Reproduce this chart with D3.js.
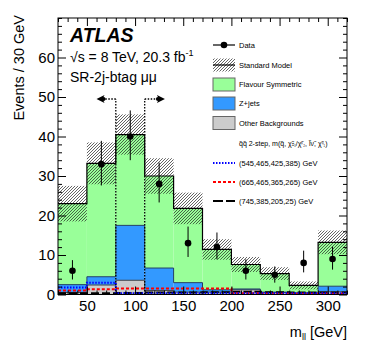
<!DOCTYPE html>
<html>
<head>
<meta charset="utf-8">
<script src="https://cdn.jsdelivr.net/npm/d3@7"></script>
<style>
body { margin: 0; background: #fff; }
svg { display: block; font-family: "Liberation Sans", Arial, Helvetica, sans-serif; }
</style>
</head>
<body>
<svg width="366" height="351"></svg>
<script>
// m_ll bins (GeV) and contents
const binEdges = [20, 50, 80, 110, 140, 170, 200, 230, 260, 290, 320];
const dataCounts = [6, 33, 40, 28, 13, 12, 6, 5, 8, 9];
const dataErrUp = [2.7, 5.9, 6.6, 5.4, 4.2, 3.7, 2.9, 2.1, 3.1, 3.1];
const dataErrDown = [2.2, 5.4, 6.0, 4.7, 3.5, 3.1, 2.2, 2.0, 2.4, 2.7];

const otherBkg = [0.5, 2.4, 3.6, 1.0, 0.6, 0.6, 1.2, 0.5, 0.3, 0.7];
const zJets = [2.0, 2.1, 13.9, 5.7, 2.4, 0.6, 0.2, 0.1, 0.1, 1.4];
const flavSym = [20.5, 28.7, 23.0, 23.3, 18.8, 10.2, 6.2, 4.7, 1.9, 11.1];
const smErr = [4.5, 5.3, 5.1, 4.5, 4.0, 2.6, 1.9, 1.6, 1.0, 3.0];

const sig545 = [1.8, 3.0, 0.3, 0.3, 0.3, 0.3, 0.3, 0.3, 0.3, 0.3];
const sig665 = [1.0, 1.3, 1.5, 1.5, 1.5, 1.5, 0.3, 0.2, 0.2, 0.2];
const sig745 = [0.3, 0.3, 0.4, 0.5, 0.5, 0.6, 0.7, 0.6, 0.5, 0.5];

const cutEdges = [80, 110];
const cutHeight = 49.5;
const arrowTips = [60, 131];

const xMajorTicks = [50, 100, 150, 200, 250, 300];
const yMajorTicks = [0, 10, 20, 30, 40, 50, 60];

const svg = d3.select("svg"),
	margin = {top: 18, right: 19, bottom: 56.5, left: 58},
	width = +svg.attr("width"),
	height = +svg.attr("height");

const x = d3.scaleLinear()
	.domain([20, 320])
	.range([margin.left, width - margin.right]);

const y = d3.scaleLinear()
	.domain([0, 70])
	.range([height - margin.bottom, margin.top]);

const bins = dataCounts.map(function(d, i) {
	return {
		lo: binEdges[i], hi: binEdges[i + 1],
		other: otherBkg[i], zjets: zJets[i], fs: flavSym[i]
	};
});
const stacked = d3.stack().keys(["other", "zjets", "fs"])(bins);
const smTotal = bins.map(function(b) { return b.other + b.zjets + b.fs; });

const defs = svg.append("defs");
defs.append("clipPath").attr("id", "plotclip")
	.append("rect")
	.attr("x", x(20)).attr("y", y(70))
	.attr("width", x(320) - x(20)).attr("height", y(0) - y(70));

const hatch = defs.append("pattern")
	.attr("id", "hatch")
	.attr("patternUnits", "userSpaceOnUse")
	.attr("width", 3).attr("height", 3);
hatch.append("path")
	.attr("d", "M-1,1 L1,-1 M0,3 L3,0 M2,4 L4,2")
	.attr("stroke", "#222")
	.attr("stroke-width", 0.7);

const plot = svg.append("g").attr("clip-path", "url(#plotclip)");

const fills = {other: "#cccccc", zjets: "#3399ff", fs: "#99ff99"};

// stacked backgrounds
stacked.forEach(function(layer) {
	plot.append("g").selectAll("rect")
		.data(layer)
		.enter().append("rect")
		.attr("x", function(d) { return x(d.data.lo); })
		.attr("width", function(d) { return x(d.data.hi) - x(d.data.lo); })
		.attr("y", function(d) { return y(d[1]); })
		.attr("height", function(d) { return y(d[0]) - y(d[1]); })
		.attr("fill", fills[layer.key]);
});

function stepPath(vals) {
	const pts = vals.map(function(v, i) { return [binEdges[i], v]; });
	pts.push([binEdges[binEdges.length - 1], vals[vals.length - 1]]);
	return d3.line()
		.x(function(d) { return x(d[0]); })
		.y(function(d) { return y(d[1]); })
		.curve(d3.curveStepAfter)(pts);
}

// outlines of grey and blue components
plot.append("path")
	.attr("d", stepPath(stacked[0].map(function(d) { return d[1]; })))
	.attr("fill", "none").attr("stroke", "#444").attr("stroke-width", 1);
plot.append("path")
	.attr("d", stepPath(stacked[1].map(function(d) { return d[1]; })))
	.attr("fill", "none").attr("stroke", "#1f3f66").attr("stroke-width", 1);

// SM uncertainty band
plot.append("g").selectAll("rect")
	.data(bins)
	.enter().append("rect")
	.attr("x", function(d) { return x(d.lo); })
	.attr("width", function(d) { return x(d.hi) - x(d.lo); })
	.attr("y", function(d, i) { return y(smTotal[i] + smErr[i]); })
	.attr("height", function(d, i) { return y(smTotal[i] - smErr[i]) - y(smTotal[i] + smErr[i]); })
	.attr("fill", "url(#hatch)");

plot.append("path")
	.attr("d", stepPath(smTotal))
	.attr("fill", "none").attr("stroke", "#000").attr("stroke-width", 1.2);

// signal points
const signals = [
	{vals: sig745, color: "#000", dash: "8,3"},
	{vals: sig665, color: "#ff0000", dash: "3,2"},
	{vals: sig545, color: "#0000ff", dash: "1.5,1.5"}
];
signals.forEach(function(s) {
	plot.append("path")
		.attr("d", stepPath(s.vals))
		.attr("fill", "none")
		.attr("stroke", s.color)
		.attr("stroke-width", 2)
		.attr("stroke-dasharray", s.dash);
});

// cut lines and arrows
cutEdges.forEach(function(c, i) {
	plot.append("line")
		.attr("x1", x(c)).attr("x2", x(c))
		.attr("y1", y(0)).attr("y2", y(cutHeight))
		.attr("stroke", "#000").attr("stroke-width", 1.3)
		.attr("stroke-dasharray", "1.5,1.5");
	const tip = x(arrowTips[i]),
		dir = tip < x(c) ? 1 : -1,
		ay = y(cutHeight);
	plot.append("line")
		.attr("x1", x(c)).attr("x2", tip + dir * 7)
		.attr("y1", ay).attr("y2", ay)
		.attr("stroke", "#000").attr("stroke-width", 1.3)
		.attr("stroke-dasharray", "1.5,1.5");
	plot.append("path")
		.attr("d", "M" + tip + "," + ay +
			" L" + (tip + dir * 8) + "," + (ay - 4) +
			" L" + (tip + dir * 6) + "," + ay +
			" L" + (tip + dir * 8) + "," + (ay + 4) + " Z")
		.attr("fill", "#000");
	plot.append("circle")
		.attr("cx", tip + dir * 7).attr("cy", ay).attr("r", 2)
		.attr("fill", "#000");
});

// data
const dataG = svg.append("g");
dataG.selectAll("line")
	.data(bins)
	.enter().append("line")
	.attr("x1", function(d) { return x((d.lo + d.hi) / 2); })
	.attr("x2", function(d) { return x((d.lo + d.hi) / 2); })
	.attr("y1", function(d, i) { return y(dataCounts[i] - dataErrDown[i]); })
	.attr("y2", function(d, i) { return y(dataCounts[i] + dataErrUp[i]); })
	.attr("stroke", "#000").attr("stroke-width", 1);
dataG.selectAll("circle")
	.data(bins)
	.enter().append("circle")
	.attr("cx", function(d) { return x((d.lo + d.hi) / 2); })
	.attr("cy", function(d, i) { return y(dataCounts[i]); })
	.attr("r", 3.3)
	.attr("fill", "#000");

// frame and axes
svg.append("rect")
	.attr("x", x(20)).attr("y", y(70))
	.attr("width", x(320) - x(20)).attr("height", y(0) - y(70))
	.attr("fill", "none").attr("stroke", "#000").attr("stroke-width", 1);

function axisPair(g, axisFn, scale, major, minor, showLabels) {
	const a = g.append("g").call(axisFn(scale).tickValues(major).tickSize(-8)
		.tickPadding(showLabels ? (axisFn === d3.axisBottom ? 5.5 : 3) : 0)
		.tickFormat(showLabels ? d3.format("d") : ""));
	g.append("g").call(axisFn(scale).tickValues(minor).tickSize(-4).tickFormat(""));
	g.selectAll(".domain").remove();
	g.selectAll("line").attr("stroke", "#000");
	a.selectAll("text").attr("font-size", 15).attr("fill", "#000")
		.attr("font-family", "Liberation Sans, Arial, sans-serif");
}

const xMinor = d3.range(20, 321, 10).filter(function(v) { return xMajorTicks.indexOf(v) < 0; });
const yMinor = d3.range(0, 71, 2).filter(function(v) { return yMajorTicks.indexOf(v) < 0; });

axisPair(svg.append("g").attr("transform", "translate(0," + y(0) + ")"),
	d3.axisBottom, x, xMajorTicks, xMinor, true);
axisPair(svg.append("g").attr("transform", "translate(0," + y(70) + ")"),
	function(s) { return d3.axisTop(s).tickSizeInner(8); }, x, xMajorTicks, xMinor, false);
svg.selectAll("g").filter(function() { return false; });
axisPair(svg.append("g").attr("transform", "translate(" + x(20) + ",0)"),
	d3.axisLeft, y, yMajorTicks, yMinor, true);
axisPair(svg.append("g").attr("transform", "translate(" + x(320) + ",0)"),
	d3.axisRight, y, yMajorTicks, yMinor, false);

// axis titles
svg.append("text")
	.attr("transform", "rotate(-90)")
	.attr("x", -15).attr("y", 24)
	.attr("text-anchor", "end")
	.attr("font-size", 14.5)
	.text("Events / 30 GeV");

const xt = svg.append("text")
	.attr("x", x(320)).attr("y", 337)
	.attr("text-anchor", "end")
	.attr("font-size", 14.5);
xt.append("tspan").text("m");
xt.append("tspan").attr("font-size", 9).attr("dy", 3).text("ll");
xt.append("tspan").attr("dy", -3).text(" [GeV]");

// labels
svg.append("text")
	.attr("x", 70).attr("y", 41.5)
	.attr("font-size", 19.5).attr("font-weight", "bold").attr("font-style", "italic")
	.text("ATLAS");
const lumi = svg.append("text")
	.attr("x", 70).attr("y", 62)
	.attr("font-size", 14);
lumi.append("tspan").text("\u221As = 8 TeV, 20.3 fb");
lumi.append("tspan").attr("font-size", 9).attr("dy", -6).text("-1");
svg.append("text")
	.attr("x", 70).attr("y", 82)
	.attr("font-size", 14)
	.text("SR-2j-btag \u03bc\u03bc");

// legend
const lg = svg.append("g").attr("font-size", 7.5);
const lx = 213, lw = 22, tx = 239;

lg.append("line").attr("x1", lx).attr("x2", lx + lw).attr("y1", 45).attr("y2", 45)
	.attr("stroke", "#000").attr("stroke-width", 1.2);
lg.append("circle").attr("cx", lx + lw / 2).attr("cy", 45).attr("r", 3.3);
lg.append("text").attr("x", tx).attr("y", 47.5).text("Data");

lg.append("rect").attr("x", lx).attr("y", 58.5).attr("width", lw).attr("height", 13)
	.attr("fill", "url(#hatch)");
lg.append("line").attr("x1", lx).attr("x2", lx + lw).attr("y1", 65).attr("y2", 65)
	.attr("stroke", "#000").attr("stroke-width", 1.2);
lg.append("text").attr("x", tx).attr("y", 67.5).text("Standard Model");

const boxes = [
	{y: 78, fill: fills.fs, label: "Flavour Symmetric"},
	{y: 97, fill: fills.zjets, label: "Z+jets"},
	{y: 116.5, fill: fills.other, label: "Other Backgrounds"}
];
boxes.forEach(function(b) {
	lg.append("rect").attr("x", lx).attr("y", b.y).attr("width", lw).attr("height", 13)
		.attr("fill", b.fill).attr("stroke", "#666").attr("stroke-width", 1);
	lg.append("text").attr("x", tx).attr("y", b.y + 9).text(b.label);
});

// signal header with sparticle names
const hdr = lg.append("text").attr("x", tx).attr("y", 146).attr("font-size", 7);
function sub(t, txt, s, up) {
	t.append("tspan").attr("font-size", 4.5).attr("dy", up).text(s);
	t.append("tspan").attr("dy", -up).text(txt);
}
hdr.append("tspan").text("q\u0303q\u0303 2-step, m(q\u0303, \u03c7\u0303");
sub(hdr, "/\u03c7\u0303", "\u00b1\u2081", 0);
sub(hdr, ", l\u0303\u03bd\u0303, \u03c7\u0303", "\u2070\u2082", 0);
sub(hdr, ")", "\u2070\u2081", 0);

const sigLegend = [
	{y: 163, color: "#0000ff", dash: "1.5,1.5", label: "(545,465,425,385) GeV"},
	{y: 182, color: "#ff0000", dash: "3,2", label: "(665,465,365,265) GeV"},
	{y: 201, color: "#000", dash: "10,3", label: "(745,385,205,25) GeV"}
];
sigLegend.forEach(function(s) {
	lg.append("line").attr("x1", lx).attr("x2", lx + lw).attr("y1", s.y).attr("y2", s.y)
		.attr("stroke", s.color).attr("stroke-width", 2).attr("stroke-dasharray", s.dash);
	lg.append("text").attr("x", tx).attr("y", s.y + 2.5).text(s.label);
});
</script>
</body>
</html>
